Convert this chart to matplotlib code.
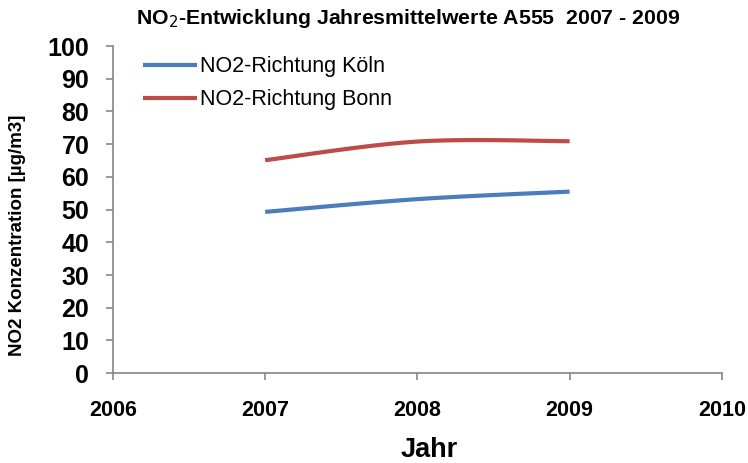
import numpy as np
import matplotlib
matplotlib.use("Agg")
import matplotlib.pyplot as plt

years = [2007, 2008, 2009]
koeln = [49.3, 53.2, 55.5]
bonn = [65.1, 70.8, 70.9]
series_names = ["NO2-Richtung Köln", "NO2-Richtung Bonn"]
colors = ["#4A7EBB", "#BE4B48"]

def excel_smooth(x, y, n=40):
    x = np.asarray(x, float); y = np.asarray(y, float)
    px = np.concatenate([[x[0]], x, [x[-1]]])
    py = np.concatenate([[y[0]], y, [y[-1]]])
    xs, ys = [], []
    for i in range(1, len(px) - 2):
        p0 = np.array([px[i], py[i]]); p3 = np.array([px[i+1], py[i+1]])
        c1 = p0 + (np.array([px[i+1], py[i+1]]) - np.array([px[i-1], py[i-1]])) / 6
        c2 = p3 - (np.array([px[i+2], py[i+2]]) - np.array([px[i], py[i]])) / 6
        t = np.linspace(0, 1, n)[:, None]
        pts = (1-t)**3*p0 + 3*(1-t)**2*t*c1 + 3*(1-t)*t**2*c2 + t**3*p3
        xs.extend(pts[:, 0]); ys.extend(pts[:, 1])
    return np.array(xs), np.array(ys)

plt.rcParams['font.family'] = ['Liberation Sans', 'DejaVu Sans']
fig = plt.figure(figsize=(7.48, 4.63), dpi=100)
ax = fig.add_axes([0.151, 0.194, 0.814, 0.7066])

for vals, name, c in zip([koeln, bonn], series_names, colors):
    sx, sy = excel_smooth(years, vals)
    ax.plot(sx, sy, color=c, lw=3, label=name, solid_capstyle='butt')

ax.set_xlim(2006, 2010)
ax.set_ylim(0, 100)
ax.set_xticks([2006, 2007, 2008, 2009, 2010])
ax.set_yticks(range(0, 101, 10))
ax.xaxis.set_major_formatter(matplotlib.ticker.FormatStrFormatter('%d'))
for s in ['top', 'right']:
    ax.spines[s].set_visible(False)
for s in ['left', 'bottom']:
    ax.spines[s].set_color('#868686')
    ax.spines[s].set_linewidth(1.2)
ax.tick_params(axis='both', colors='#868686', length=5, width=1.2, direction='out')
ax.tick_params(axis='y', labelsize=18, labelcolor='black', pad=12)
ax.tick_params(axis='x', labelsize=15.5, labelcolor='black', pad=14)
for lab in ax.get_xticklabels() + ax.get_yticklabels():
    lab.set_fontweight('bold')

ax.set_xlabel('Jahr', fontsize=19.5, fontweight='bold')
ax.xaxis.set_label_coords(0.519, -0.235)
ax.xaxis.label.set_va('center')
ax.set_ylabel('NO2 Konzentration [µg/m3]', fontsize=13.5, fontweight='bold')
ax.yaxis.set_label_coords(-0.156, 0.42)
ax.yaxis.label.set_va('center')
fig.text(0.546, 0.96, 'NO$_2$-Entwicklung Jahresmittelwerte A555  2007 - 2009',
         ha='center', va='center', fontsize=15.3, fontweight='bold')

leg = ax.legend(loc='upper left', bbox_to_anchor=(0.035, 0.995), frameon=False,
                fontsize=15.5, handlelength=2.5, handletextpad=0.15, labelspacing=0.55,
                borderaxespad=0)

fig.savefig('out.png', dpi=100)
